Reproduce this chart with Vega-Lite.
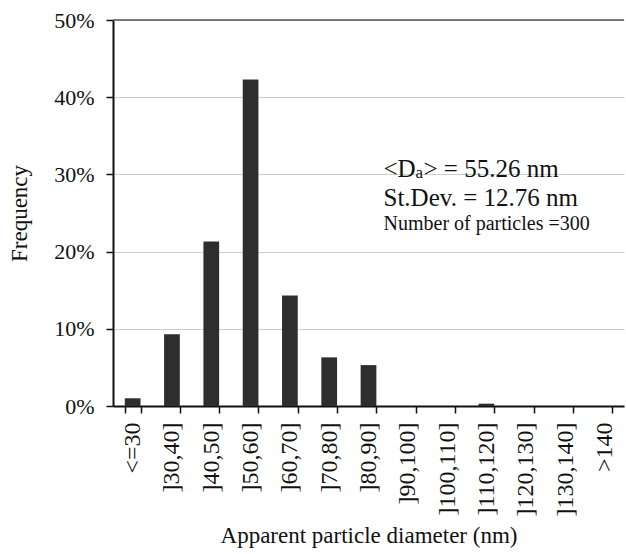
{
  "$schema": "https://vega.github.io/schema/vega-lite/v6.json",
  "width": 511,
  "height": 386,
  "autosize": {"type": "none"},
  "padding": {"left": 113, "top": 20, "right": 2, "bottom": 148},
  "background": "white",
  "config": {
    "font": "Liberation Serif",
    "view": {"stroke": null},
    "axis": {
      "labelFont": "Liberation Serif",
      "titleFont": "Liberation Serif",
      "labelColor": "#111",
      "titleColor": "#111",
      "titleFontWeight": "normal",
      "domainColor": "#111",
      "tickColor": "#111",
      "domainWidth": 2,
      "tickWidth": 1.5
    }
  },
  "datasets": {
    "sizes": [
      {"bin": "<=30", "freq": 0.010},
      {"bin": "]30,40]", "freq": 0.093},
      {"bin": "]40,50]", "freq": 0.213},
      {"bin": "]50,60]", "freq": 0.423},
      {"bin": "]60,70]", "freq": 0.143},
      {"bin": "]70,80]", "freq": 0.063},
      {"bin": "]80,90]", "freq": 0.053},
      {"bin": "]90,100]", "freq": 0},
      {"bin": "]100,110]", "freq": 0},
      {"bin": "]110,120]", "freq": 0.003},
      {"bin": "]120,130]", "freq": 0},
      {"bin": "]130,140]", "freq": 0},
      {"bin": ">140", "freq": 0}
    ],
    "one": [{"top": 0.5}]
  },
  "layer": [
    {
      "data": {"name": "sizes"},
      "mark": {"type": "bar", "fill": "#2e2e2e"},
      "encoding": {
        "x": {
          "field": "bin",
          "type": "nominal",
          "sort": null,
          "scale": {"paddingInner": 0.6, "paddingOuter": 0.3},
          "axis": {
            "title": "Apparent particle diameter (nm)",
            "titleFontSize": 23,
            "titlePadding": 9,
            "labelFontSize": 24,
            "labelAngle": -90,
            "labelPadding": 9,
            "labelOverlap": false,
            "tickBand": "extent",
            "tickSize": 7,
            "grid": false
          }
        },
        "y": {
          "field": "freq",
          "type": "quantitative",
          "scale": {"domain": [0, 0.5], "nice": false},
          "axis": {
            "title": "Frequency",
            "titleFontSize": 23,
            "titlePadding": 22,
            "labelFontSize": 22,
            "labelPadding": 12,
            "labelOverlap": false,
            "labelBound": false,
            "format": ".0%",
            "values": [0, 0.1, 0.2, 0.3, 0.4, 0.5],
            "tickSize": 7,
            "grid": true,
            "gridColor": "#cfcfcf",
            "gridWidth": 1
          }
        }
      }
    },
    {
      "data": {"name": "one"},
      "mark": {"type": "rule", "color": "#555", "strokeWidth": 1.5},
      "encoding": {"y": {"field": "top", "type": "quantitative"}}
    },
    {
      "data": {"name": "one"},
      "mark": {"type": "text", "align": "left", "fontSize": 25, "dx": 15, "color": "#111"},
      "encoding": {
        "x": {"datum": "]80,90]"},
        "y": {"datum": 0.307},
        "text": {"value": "<D"}
      }
    },
    {
      "data": {"name": "one"},
      "mark": {"type": "text", "align": "left", "fontSize": 17, "dx": 47, "dy": 4, "color": "#111"},
      "encoding": {
        "x": {"datum": "]80,90]"},
        "y": {"datum": 0.307},
        "text": {"value": "a"}
      }
    },
    {
      "data": {"name": "one"},
      "mark": {"type": "text", "align": "left", "fontSize": 25, "dx": 55, "color": "#111"},
      "encoding": {
        "x": {"datum": "]80,90]"},
        "y": {"datum": 0.307},
        "text": {"value": "> = 55.26 nm"}
      }
    },
    {
      "data": {"name": "one"},
      "mark": {"type": "text", "align": "left", "fontSize": 25, "dx": 15, "color": "#111"},
      "encoding": {
        "x": {"datum": "]80,90]"},
        "y": {"datum": 0.27},
        "text": {"value": "St.Dev. = 12.76 nm"}
      }
    },
    {
      "data": {"name": "one"},
      "mark": {"type": "text", "align": "left", "fontSize": 20, "dx": 15, "color": "#111"},
      "encoding": {
        "x": {"datum": "]80,90]"},
        "y": {"datum": 0.236},
        "text": {"value": "Number of particles =300"}
      }
    }
  ]
}
